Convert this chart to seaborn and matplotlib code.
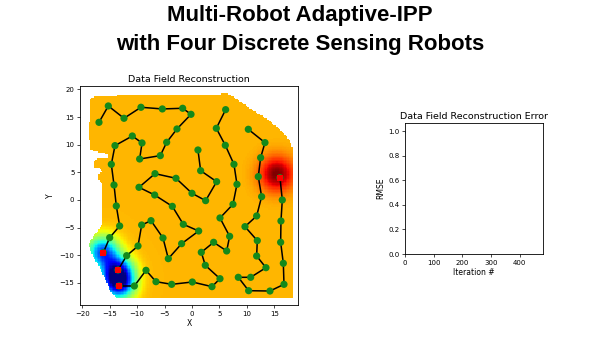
import numpy as np
import pandas as pd
import matplotlib
matplotlib.use("Agg")
import matplotlib.pyplot as plt
from matplotlib.path import Path
import seaborn as sns

# ---------------- data ----------------
# robot paths (last point = current robot position)
r1_x = [-16.97, -15.27, -12.41, -9.31, -5.41, -1.70, -0.18, -2.74, -4.62, -5.78,
        -9.55, -9.12, -10.89, -14.05, -14.72, -14.23, -13.81, -13.20, -15.02, -16.18]
r1_y = [14.04, 17.00, 14.77, 16.76, 16.46, 16.58, 15.49, 12.84, 10.43, 8.02,
        7.41, 10.31, 11.57, 9.83, 6.45, 2.71, -1.08, -4.70, -6.81, -9.52]

r2_x = [1.09, 1.58, 4.50, 2.49, 0.00, -2.92, -6.75, -9.67, -6.81, -3.59,
        -1.58, 1.22, -1.89, -4.32, -5.29, -7.48, -9.18, -9.85, -11.92, -13.50]
r2_y = [9.04, 5.30, 3.31, -0.12, 1.21, 3.92, 4.76, 2.29, 0.90, -1.15,
        -4.40, -5.61, -7.90, -10.61, -6.87, -3.74, -4.52, -8.32, -10.07, -12.66]

r3_x = [6.14, 4.44, 6.08, 7.66, 8.21, 7.48, 5.11, 6.87, 6.33, 3.95,
        1.70, 2.43, 5.11, 3.65, 0.06, -3.71, -6.57, -8.39, -10.52, -13.32]
r3_y = [16.33, 12.96, 9.89, 6.45, 2.83, -0.78, -3.25, -6.57, -9.22, -7.65,
        -9.46, -11.81, -14.23, -15.67, -14.83, -15.25, -14.77, -12.72, -15.55, -15.55]

r4_x = [10.28, 13.32, 12.53, 12.10, 12.71, 11.80, 9.67, 11.92, 11.80, 13.50,
        10.71, 8.45, 10.34, 14.23, 16.79, 16.67, 16.18, 16.24, 16.48, 16.06]
r4_y = [12.78, 10.37, 7.65, 4.22, 0.60, -2.89, -4.82, -7.35, -10.13, -12.24,
        -13.98, -13.98, -16.40, -16.46, -15.25, -11.45, -7.65, -3.80, 0.00, 4.04]

# boundary of the reconstructed field region
field_bx = [-18.61, -18.49, -17.40, -12.53, -6.45, -0.36, 6.63, 7.54, 9.06, 10.58,
            12.41, 14.23, 15.75, 17.15, 18.00, 18.37, 18.37, -13.87, -14.84, -15.69,
            -16.79, -17.88, -18.92, -18.31, -17.27, -16.48, -16.48, -17.03, -17.09, -16.48,
            -16.67, -17.88, -18.00, -17.09, -15.27, -15.57, -17.40, -18.61, -18.80, -18.74]
field_by = [17.48, 18.38, 18.81, 18.93, 18.99, 19.05, 19.17, 18.69, 17.66, 16.58,
            15.37, 14.35, 12.96, 11.75, 10.25, 9.04, -17.75, -17.65, -16.58, -14.47,
            -12.36, -10.55, -8.14, -6.93, -5.73, -4.52, 3.01, 3.44, 4.70, 5.12,
            5.61, 5.91, 6.93, 7.54, 7.65, 8.32, 8.68, 9.04, 11.45, 14.47]

# field level (normalised) and local anomalies seen in the picture
field_base = 0.715
spot_x = [15.5, -16.3, -13.6, -13.4]
spot_y = [4.7, -9.4, -12.9, -15.2]
spot_amp = [0.29, -0.50, -0.50, -0.55]
spot_sigma = [2.2, 2.0, 2.0, 2.0]

# RMSE plot (only the first point so far)
rmse_iter = [0]
rmse_val = [0.99]

# ---------------- figure ----------------
fig = plt.figure(figsize=(6, 3.38), dpi=100)
ax1 = fig.add_axes([0.1333, 0.0976, 0.3633, 0.648])
ax2 = fig.add_axes([0.675, 0.2485, 0.23, 0.3876])

# field on a grid, masked to the region
step = 0.25
gx = np.arange(-19.5, 19.2, step)
gy = np.arange(-18.6, 19.8, step)
GX, GY = np.meshgrid(gx, gy)
F = np.full(GX.shape, field_base)
for sx, sy, a, s in zip(spot_x, spot_y, spot_amp, spot_sigma):
    F += a * np.exp(-((GX - sx) ** 2 + (GY - sy) ** 2) / (2 * s ** 2))
poly = Path(np.column_stack([field_bx, field_by]))
inside = poly.contains_points(np.column_stack([GX.ravel(), GY.ravel()])).reshape(GX.shape)
Fm = np.ma.masked_where(~inside, np.clip(F, 0, 1))
ax1.pcolormesh(GX, GY, Fm, cmap="jet", vmin=0, vmax=1, shading="nearest", zorder=1)

paths = [(r1_x, r1_y), (r2_x, r2_y), (r3_x, r3_y), (r4_x, r4_y)]
for px, py in paths:
    df = pd.DataFrame({"x": px, "y": py})
    sns.lineplot(data=df, x="x", y="y", sort=False, estimator=None,
                 color="black", lw=1.1, ax=ax1, zorder=3)
    sns.scatterplot(data=df, x="x", y="y", color="#14891a", s=27,
                    edgecolor="none", ax=ax1, zorder=4)
cur = pd.DataFrame({"x": [p[0][-1] for p in paths], "y": [p[1][-1] for p in paths]})
sns.scatterplot(data=cur, x="x", y="y", color="red", marker="s", s=18,
                edgecolor="none", ax=ax1, zorder=5)

ax1.set_xlim(-20.44, 19.34)
ax1.set_ylim(-18.99, 20.61)
ax1.set_xticks([-20, -15, -10, -5, 0, 5, 10, 15])
ax1.set_yticks([-15, -10, -5, 0, 5, 10, 15, 20])
ax1.set_xlabel("X", fontsize=5.5, labelpad=1.5)
ax1.set_ylabel("Y", fontsize=5.5, labelpad=3)
ax1.set_title("Data Field Reconstruction", fontsize=6.8, pad=3)

rm = pd.DataFrame({"it": rmse_iter, "rmse": rmse_val})
sns.scatterplot(data=rm, x="it", y="rmse", color="C0", s=1.5, edgecolor="none", ax=ax2)
ax2.set_xlim(0, 481)
ax2.set_ylim(0, 1.068)
ax2.set_xticks([0, 100, 200, 300, 400])
ax2.set_yticks([0.0, 0.2, 0.4, 0.6, 0.8, 1.0])
ax2.set_xlabel("Iteration #", fontsize=5.5, labelpad=1.5)
ax2.set_ylabel("RMSE", fontsize=5.5, labelpad=2)
ax2.set_title("Data Field Reconstruction Error", fontsize=6.8, pad=3)

for ax in (ax1, ax2):
    ax.tick_params(labelsize=5, length=2.5, width=0.5, pad=1.5)
    for sp in ax.spines.values():
        sp.set_linewidth(0.6)

fig.text(0.5, 1 - 21 / 338, "Multi-Robot Adaptive-IPP", ha="center", va="baseline",
         fontsize=16, fontweight="bold", family=["Liberation Sans", "DejaVu Sans"])
fig.text(0.5, 1 - 50 / 338, "with Four Discrete Sensing Robots", ha="center", va="baseline",
         fontsize=16, fontweight="bold", family=["Liberation Sans", "DejaVu Sans"])

fig.savefig("out.png", dpi=100)
